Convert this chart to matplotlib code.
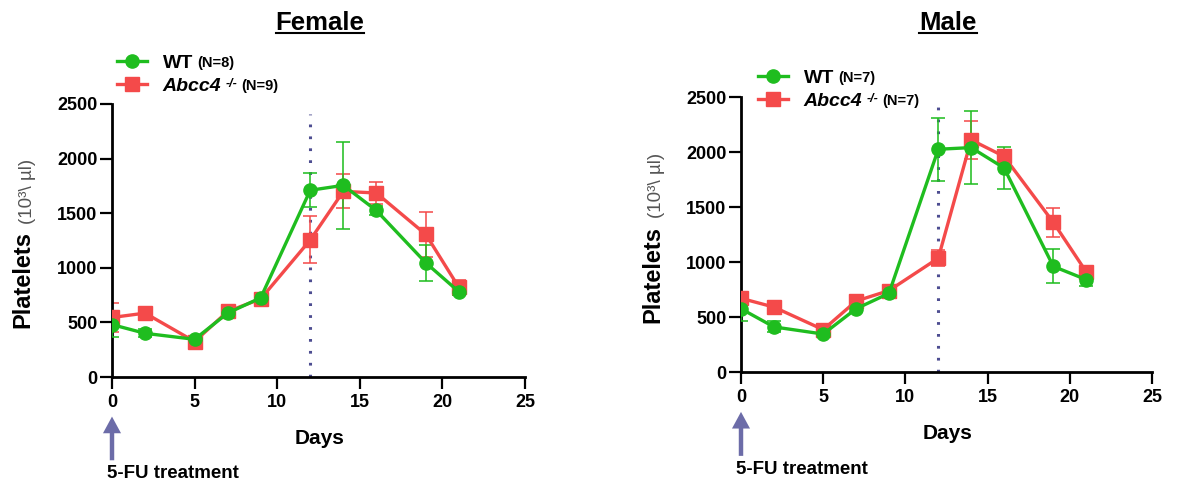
import matplotlib
matplotlib.use("Agg")
import matplotlib.pyplot as plt
from matplotlib.lines import Line2D

plt.rcParams["font.family"] = ["Liberation Sans", "DejaVu Sans"]

# ------------------------------------------------------------------
# Data
# ------------------------------------------------------------------
days = [0, 2, 5, 7, 9, 12, 14, 16, 19, 21]

female_wt = [480, 400, 345, 585, 725, 1710, 1755, 1525, 1045, 780]
female_wt_err = [115, 35, 30, 30, 30, 155, 400, 40, 165, 30]
female_ko = [545, 585, 325, 600, 715, 1255, 1700, 1685, 1305, 820]
female_ko_err = [135, 30, 30, 30, 30, 215, 155, 105, 205, 70]

male_wt = [575, 410, 345, 575, 715, 2025, 2040, 1855, 960, 840]
male_wt_err = [115, 50, 30, 30, 30, 285, 330, 190, 155, 60]
male_ko = [670, 590, 385, 645, 740, 1035, 2110, 1960, 1360, 910]
male_ko_err = [30, 30, 30, 30, 30, 70, 175, 60, 135, 40]

x_ticks = [0, 5, 10, 15, 20, 25]
y_ticks = [0, 500, 1000, 1500, 2000, 2500]

treatment_day = 12
treatment_line_top = 2410

GREEN = "#1fbd1f"
RED = "#f44a4a"
LINE_PURPLE = "#4d4d91"
ARROW_PURPLE = "#6c6ca8"

W, H = 1181, 490


def px_box(left, top, right, bottom):
    """Axes rectangle in figure fractions from pixel edges."""
    return [left / W, 1 - bottom / H, (right - left) / W, (bottom - top) / H]


def draw_panel(fig, ax, title, title_x, wt, wt_err, ko, ko_err, n_wt, n_ko, legend_xy):
    # error bars first, then lines + markers
    ax.errorbar(days, ko, yerr=ko_err, fmt="none", ecolor=RED, elinewidth=1.4,
                capsize=5, capthick=1.4, alpha=0.8, zorder=2)
    ax.errorbar(days, wt, yerr=wt_err, fmt="none", ecolor=GREEN, elinewidth=1.4,
                capsize=5, capthick=1.4, alpha=0.8, zorder=3)
    (ko_line,) = ax.plot(days, ko, color=RED, lw=2.4, marker="s", ms=9.5,
                         mec=RED, zorder=4)
    (wt_line,) = ax.plot(days, wt, color=GREEN, lw=2.4, marker="o", ms=9.5,
                         mec=GREEN, zorder=5)

    ax.vlines(treatment_day, 0, treatment_line_top, colors=LINE_PURPLE,
              linestyles=(0, (0.9, 3.0)), lw=2.2, zorder=1)

    ax.set_xlim(0, 25)
    ax.set_ylim(0, 2500)
    ax.set_xticks(x_ticks)
    ax.set_yticks(y_ticks)
    for side in ("top", "right"):
        ax.spines[side].set_visible(False)
    for side in ("left", "bottom"):
        ax.spines[side].set_linewidth(2)
    ax.tick_params(axis="both", direction="out", length=8.5, width=1.6,
                   labelsize=13)
    ax.tick_params(axis="x", pad=4)
    ax.tick_params(axis="y", pad=2)
    for lbl in ax.get_xticklabels() + ax.get_yticklabels():
        lbl.set_fontweight("bold")

    ax.set_xlabel("Days", fontsize=15, fontweight="bold")
    ax.xaxis.set_label_coords(0.502, -0.19)

    # y label: bold "Platelets" plus light unit text
    ax.text(-0.215, 0.18, "Platelets", transform=ax.transAxes, rotation=90,
            ha="center", va="bottom", fontsize=17, fontweight="bold")
    ax.text(-0.205, 0.56, "(10³\\ µl)", transform=ax.transAxes, rotation=90,
            ha="center", va="bottom", fontsize=13.5, color="#555555")

    # 5-FU arrow and text
    ax.annotate("", xy=(0, -0.145), xytext=(0, -0.305),
                xycoords=("data", "axes fraction"),
                textcoords=("data", "axes fraction"),
                arrowprops=dict(width=3.2, headwidth=13, headlength=12,
                                shrink=0, color=ARROW_PURPLE, lw=0),
                annotation_clip=False)
    ax.text(-0.013, -0.355, "5-FU treatment", transform=ax.transAxes,
            ha="left", va="center", fontsize=13.5, fontweight="bold")

    # legend
    leg = ax.legend([wt_line, ko_line], ["WT", "Abcc4"], loc="center left",
                    bbox_to_anchor=legend_xy, bbox_transform=fig.transFigure,
                    frameon=False, fontsize=14, handlelength=1.55,
                    handletextpad=0.8, labelspacing=0.25, borderpad=0,
                    borderaxespad=0, markerscale=1.0)
    wt_txt, ko_txt = leg.get_texts()
    wt_txt.set_fontweight("bold")
    ko_txt.set_fontweight("bold")
    ko_txt.set_fontstyle("italic")

    ax.annotate(f"(N={n_wt})", xy=(1, 0), xycoords=wt_txt, xytext=(3, 1.2),
                textcoords="offset points", ha="left", va="bottom",
                fontsize=10.5, fontweight="bold", zorder=10,
                annotation_clip=False)
    sup = ax.annotate("-/-", xy=(1, 1), xycoords=ko_txt, xytext=(3, -0.5),
                      textcoords="offset points", ha="left", va="top",
                      fontsize=9, fontweight="bold", fontstyle="italic",
                      zorder=10, annotation_clip=False)
    ax.annotate(f"(N={n_ko})", xy=(1, 0), xycoords=(sup, ko_txt),
                xytext=(3, 1.2), textcoords="offset points", ha="left",
                va="bottom", fontsize=10.5, fontweight="bold", zorder=11,
                annotation_clip=False)

    # underlined title
    t = fig.text(title_x / W, 1 - 23 / H, title, ha="center", va="center",
                 fontsize=18.5, fontweight="bold")
    return t


def main() -> None:
    fig = plt.figure(figsize=(W / 100, H / 100), dpi=100)

    ax_f = fig.add_axes(px_box(112, 104, 525, 377))
    ax_m = fig.add_axes(px_box(741, 97, 1152, 372))

    t_f = draw_panel(fig, ax_f, "Female", 320, female_wt, female_wt_err,
                     female_ko, female_ko_err, 8, 9, (117 / W, 1 - 74.5 / H))
    t_m = draw_panel(fig, ax_m, "Male", 948, male_wt, male_wt_err,
                     male_ko, male_ko_err, 7, 7, (758 / W, 1 - 89.5 / H))

    # underline the titles
    fig.canvas.draw()
    renderer = fig.canvas.get_renderer()
    inv = fig.transFigure.inverted()
    for t in (t_f, t_m):
        bb = t.get_window_extent(renderer)
        (x0, y0), (x1, _) = inv.transform([(bb.x0, bb.y0 + 2), (bb.x1, bb.y0)])
        fig.add_artist(Line2D([x0, x1], [y0, y0], transform=fig.transFigure,
                              color="black", lw=1.5))

    fig.savefig("out.png", dpi=100)
    plt.close(fig)


if __name__ == "__main__":
    main()
